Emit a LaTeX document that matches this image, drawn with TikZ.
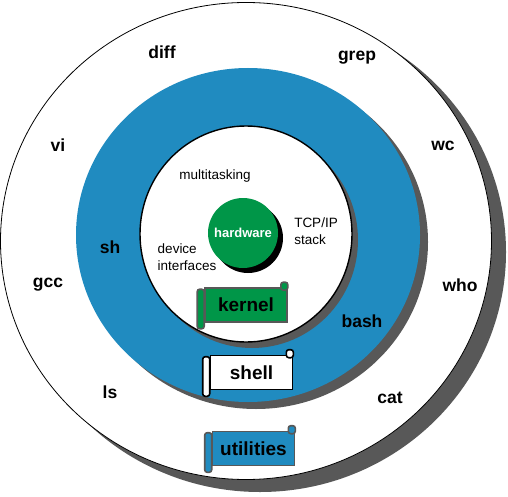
\documentclass[tikz,border=0pt]{standalone}
\usepackage{xcolor}
\usepackage{fontspec}
\setmainfont{Liberation Sans}
\usetikzlibrary{positioning,calc}

\definecolor{ringblue}{RGB}{32,139,192}
\definecolor{kgreen}{RGB}{0,150,72}
\definecolor{shgray}{RGB}{88,88,88}

\tikzset{
    cmd/.style={font=\bfseries\fontsize{17.5}{20}\selectfont},
    note/.style={font=\fontsize{13.5}{17}\selectfont, align=left, inner sep=0pt},
    banner/.style={draw, line width=1.6pt, minimum width=82pt, minimum height=34pt, inner sep=0pt, font=\bfseries\fontsize{19}{21}\selectfont},
    roll/.style={line width=1.6pt, rounded corners=2.5pt},
}

\begin{document}
\begin{tikzpicture}[x=1pt,y=-1pt]
        \useasboundingbox (0,0) rectangle (508,497);
        % utilities ring
        \fill[shgray] (260,252) ellipse [x radius=246, y radius=240];
        \draw[fill=white, line width=0.8pt] (246,241) ellipse [x radius=245.5, y radius=238.5];
        % shell ring
        \fill[shgray] (256,242) ellipse [x radius=172, y radius=167];
        \fill[ringblue] (248,235) ellipse [x radius=172, y radius=167];
        % kernel
        \fill[shgray] (252,240) ellipse [x radius=106, y radius=108];
        \draw[fill=white, line width=1.4pt] (246,234) ellipse [x radius=106, y radius=108];
        % hardware
        \fill[black] (248,238) circle [radius=35];
        \node[circle, fill=kgreen, minimum size=70pt, inner sep=0pt, text=white, font=\bfseries\fontsize{13}{15}\selectfont] (hw) at (243,233) {hardware};

        \node[note] (mt) at (215,176) {multitasking};
        \node[note] (tcp) at (316,231) {TCP/IP\\stack};
        \node[note] (dev) at (187,257) {device\\interfaces};

        \foreach \nm/\x/\y in {diff/162/52, grep/357/58, vi/58/145, wc/443/146, gcc/48/285, who/460/285, ls/110/392, cat/390/398, sh/110/247, bash/362/321} {
            \node[cmd] (\nm) at (\x,\y) {\nm};
        }

        \foreach \nm/\x/\y/\col/\ln/\txt in {kern/246/305/kgreen/shgray/kernel, shl/251.5/372.5/white/black/shell, util/253.5/448.5/ringblue/shgray/utilities} {
            \node[banner, fill=\col, draw=\ln] (\nm) at (\x,\y) {\txt};
            \draw[roll, fill=\col, draw=\ln] ($(\nm.north west)+(-7,2)$) rectangle ($(\nm.south west)+(0,6)$);
            \draw[roll, fill=\col, draw=\ln] ($(\nm.north east)+(-7,-5)$) rectangle ($(\nm.north east)+(0,3)$);
        }
    \end{tikzpicture}
\end{document}
